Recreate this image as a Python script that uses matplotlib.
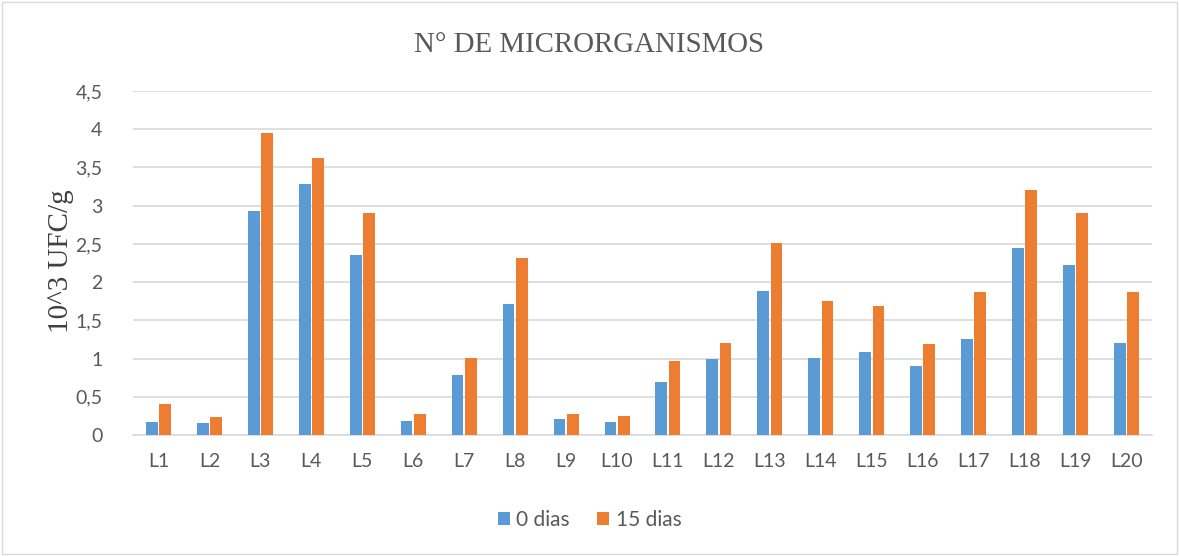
import matplotlib
matplotlib.use("Agg")
import matplotlib.pyplot as plt
import numpy as np
from matplotlib.ticker import FuncFormatter, MultipleLocator
from matplotlib.patches import Rectangle

categories = [f"L{i}" for i in range(1, 21)]
dias0 = [0.165, 0.157, 2.93, 3.28, 2.36, 0.18, 0.78, 1.71, 0.205, 0.17,
         0.69, 0.99, 1.89, 1.01, 1.08, 0.90, 1.25, 2.45, 2.23, 1.21]
dias15 = [0.41, 0.235, 3.95, 3.63, 2.91, 0.28, 1.006, 2.32, 0.274, 0.25,
          0.97, 1.21, 2.51, 1.75, 1.69, 1.19, 1.87, 3.20, 2.91, 1.87]
series_names = ["0 dias", "15 dias"]
colors = ["#5B9BD5", "#ED7D31"]

W, H = 1179, 556
fig = plt.figure(figsize=(W / 100, H / 100), dpi=100)
fig.patch.set_facecolor("white")
fig.patches.append(Rectangle((2 / W, 2 / H), 1 - 4 / W, 1 - 4 / H, transform=fig.transFigure,
                             fill=False, edgecolor="#D9D9D9", linewidth=1))

ax = fig.add_axes([133 / W, 1 - 435 / H, (1152 - 133) / W, (435 - 91) / H])
x = np.arange(len(categories))
bw = 0.23
ax.bar(x - 0.13, dias0, width=bw, color=colors[0], label=series_names[0], zorder=3)
ax.bar(x + 0.13, dias15, width=bw, color=colors[1], label=series_names[1], zorder=3)

ax.set_xlim(-0.5, len(categories) - 0.5)
ax.set_ylim(0, 4.5)
ax.yaxis.set_major_locator(MultipleLocator(0.5))
ax.yaxis.set_major_formatter(FuncFormatter(lambda v, p: (f"{v:g}").replace(".", ",")))
ax.grid(axis="y", color="#D9D9D9", linewidth=1.2, zorder=0)
ax.set_axisbelow(True)
for s in ["top", "right", "left"]:
    ax.spines[s].set_visible(False)
ax.spines["bottom"].set_color("#D9D9D9")
ax.spines["bottom"].set_linewidth(1.2)
ax.tick_params(axis="both", length=0, colors="#595959", labelsize=14)
ax.tick_params(axis="y", pad=22)
ax.tick_params(axis="x", pad=13)
ax.set_xticks(x)
ax.set_xticklabels(categories)
for lab in ax.get_xticklabels() + ax.get_yticklabels():
    lab.set_fontfamily("Lato")

fig.text(61 / W, 1 - 261 / H, "10^3 UFC/g", rotation=90, ha="center", va="center",
         fontfamily="Liberation Serif", fontsize=21, color="#404040")
fig.text(0.5, 1 - 45 / H, "N° DE MICRORGANISMOS", ha="center", va="center",
         fontfamily="Liberation Serif", fontsize=20.8, color="#595959")

leg = fig.legend(loc="center", bbox_to_anchor=(0.5, 1 - 520 / H), ncol=2, frameon=False,
                 prop={"family": "Lato", "size": 15}, handlelength=0.6, handleheight=0.6,
                 handletextpad=0.3, columnspacing=1.3)
for t in leg.get_texts():
    t.set_color("#595959")

fig.savefig("out.png", dpi=100)
